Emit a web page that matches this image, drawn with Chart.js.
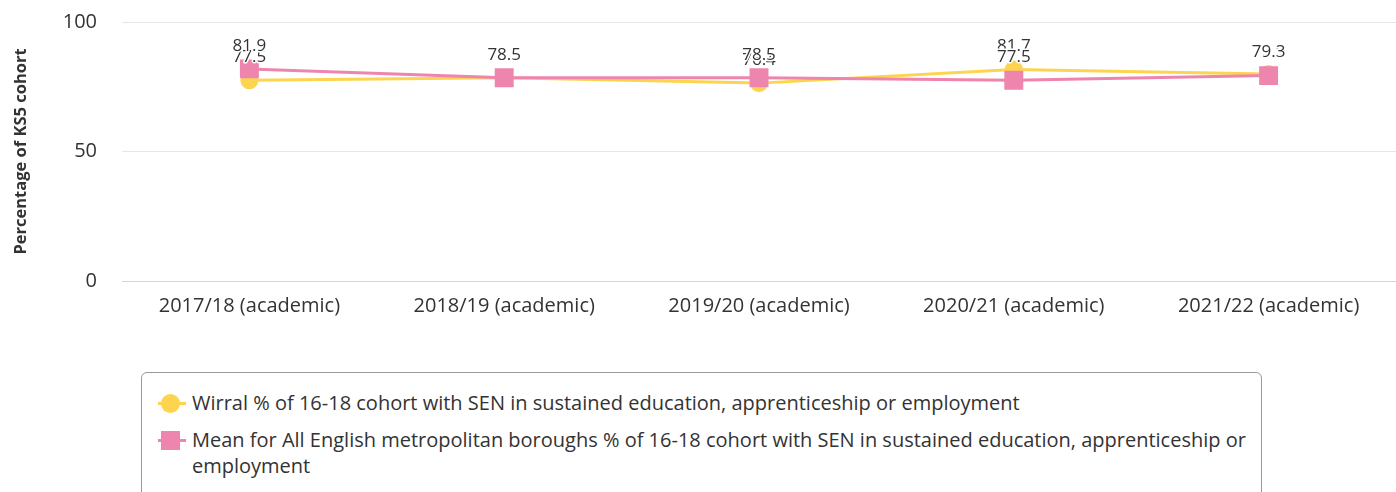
<!DOCTYPE html>
<html>
<head>
<meta charset="utf-8">
<script src="https://cdn.jsdelivr.net/npm/chart.js@4"></script>
<style>
  html, body { margin: 0; overflow: hidden; background: #fff; font-family: 'Open Sans', sans-serif; }
  #wrap { position: relative; width: 1396px; height: 492px; overflow: hidden; }
  #chart-sen { position: absolute; left: 0; top: 0; }
  #legend {
    position: absolute; left: 141px; top: 372px; width: 1121px; height: 140px;
    border: 1px solid #999; border-radius: 6px; box-sizing: border-box;
    color: #333; font-size: 20px; line-height: 26px;
  }
  .item { position: absolute; left: 50px; width: 1062px; }
  .sym { position: absolute; left: -34px; top: 12px; width: 28px; height: 3px; }
  .sym i { position: absolute; left: 3px; top: -8px; width: 19px; height: 19px; }
</style>
</head>
<body>
<div id="wrap">
  <canvas id="chart-sen" width="1396" height="340"></canvas>
  <div id="legend"></div>
</div>
<script>
const categories = ['2017/18 (academic)', '2018/19 (academic)', '2019/20 (academic)', '2020/21 (academic)', '2021/22 (academic)'];
const wirral = [77.5, 78.5, 76.4, 81.7, 79.9];
const metMean = [81.9, 78.5, 78.5, 77.5, 79.3];
const seriesNames = [
  'Wirral % of 16-18 cohort with SEN in sustained education, apprenticeship or employment',
  'Mean for All English metropolitan boroughs % of 16-18 cohort with SEN in sustained education, apprenticeship or employment'
];
const yTicks = [0, 50, 100];

const YELLOW = '#fdd44f';
const PINK = '#ee85ae';

// value labels above each point, with a white outline like the original
var pointLabels = {
  id: 'pointLabels',
  afterDatasetsDraw: function (chart) {
    const ctx = chart.ctx;
    ctx.save();
    ctx.font = '17px "Open Sans"';
    ctx.textAlign = 'center';
    ctx.textBaseline = 'middle';
    ctx.lineJoin = 'round';
    chart.data.datasets.forEach((ds, i) => {
      chart.getDatasetMeta(i).data.forEach((pt, j) => {
        const txt = ds.data[j].toFixed(1);
        ctx.strokeStyle = '#fff';
        ctx.lineWidth = 3;
        ctx.strokeText(txt, pt.x, pt.y - 23);
        ctx.fillStyle = '#333';
        ctx.fillText(txt, pt.x, pt.y - 23);
      });
    });
    ctx.restore();
  },
};

var ctx = document.getElementById('chart-sen').getContext('2d');
var chart = new Chart(ctx, {
  type: 'line',
  plugins: [pointLabels],
  data: {
    labels: categories,
    datasets: [
      {
        label: seriesNames[0],
        data: wirral,
        order: 1,
        borderColor: YELLOW,
        backgroundColor: YELLOW,
        borderWidth: 3,
        pointStyle: 'circle',
        pointRadius: 9,
        pointHoverRadius: 9,
        pointBorderWidth: 0,
      },
      {
        label: seriesNames[1],
        data: metMean,
        order: 0,
        borderColor: PINK,
        backgroundColor: PINK,
        borderWidth: 3,
        pointStyle: 'rect',
        pointRadius: 13.4,
        pointHoverRadius: 13.4,
        pointBorderWidth: 0,
      },
    ],
  },
  options: {
    responsive: false,
    animation: false,
    layout: { autoPadding: false, padding: { top: 22, bottom: 9, left: 0, right: 0 } },
    plugins: {
      legend: { display: false },
      tooltip: { enabled: false },
    },
    scales: {
      x: {
        offset: true,
        grid: { display: false, drawTicks: false },
        border: { color: '#ccd6eb', width: 1 },
        ticks: { color: '#333', font: { family: 'Open Sans', size: 20 }, padding: 13, maxRotation: 0 },
      },
      y: {
        min: 0,
        max: 100,
        afterBuildTicks: (axis) => { axis.ticks = yTicks.map((v) => ({ value: v })); },
        afterFit: (axis) => {
          axis.width = 122;
          // keep the label gap from pushing the plot down
          axis.paddingTop = 12;
          axis.paddingBottom = 12;
        },
        grid: { color: '#e6e6e6', drawTicks: false },
        border: { display: false },
        ticks: { color: '#333', font: { family: 'Open Sans', size: 20 }, padding: 25 },
        title: {
          display: true,
          text: 'Percentage of KS5 cohort',
          color: '#333',
          font: { family: 'Open Sans', size: 16.5, weight: 'bold' },
          padding: { top: 11, bottom: 0 },
        },
      },
    },
  },
});

// legend below the chart, wrapped like the original
const legendEl = document.getElementById('legend');
const legendTops = [17, 54];
seriesNames.forEach((name, i) => {
  const item = document.createElement('div');
  item.className = 'item';
  item.style.top = legendTops[i] + 'px';
  const color = i === 0 ? YELLOW : PINK;
  const radius = i === 0 ? '50%' : '0';
  item.innerHTML = '<span class="sym" style="background:' + color + '"><i style="background:' + color +
    ';border-radius:' + radius + '"></i></span>' + name;
  legendEl.appendChild(item);
});
</script>
</body>
</html>
